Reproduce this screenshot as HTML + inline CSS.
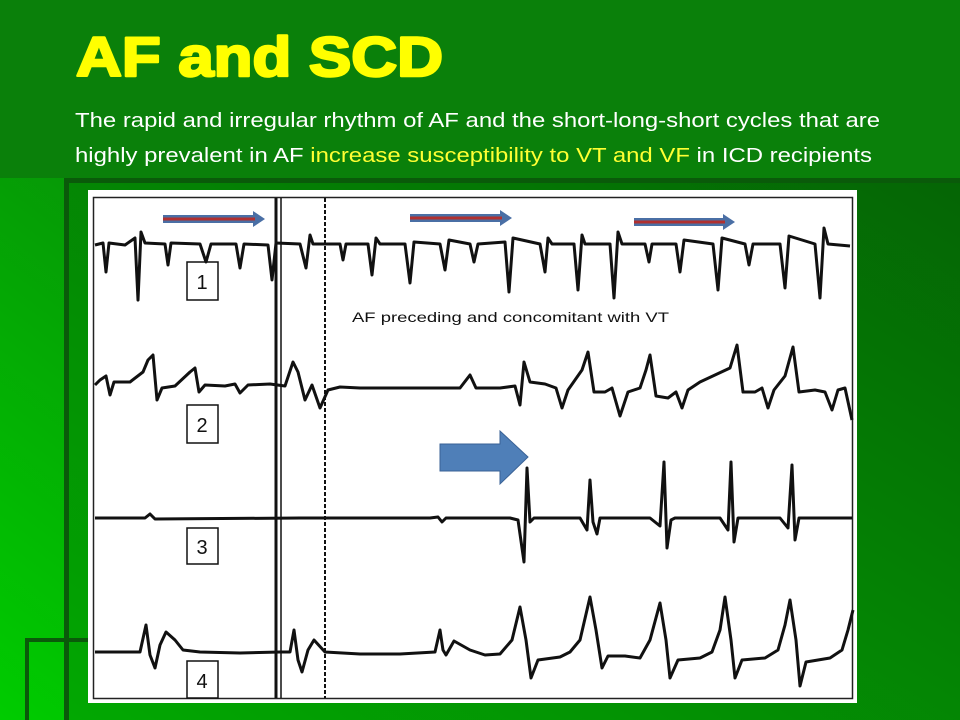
<!DOCTYPE html>
<html><head><meta charset="utf-8"><style>
html,body{margin:0;padding:0;width:960px;height:720px;overflow:hidden}
</style></head><body>
<svg width="960" height="720" viewBox="0 0 960 720" xmlns="http://www.w3.org/2000/svg" font-family="Liberation Sans, Arial, sans-serif">
<defs>
<linearGradient id="bg" x1="1" y1="0" x2="0" y2="1">
<stop offset="0" stop-color="#0a6e0a"/>
<stop offset="0.5" stop-color="#078f07"/>
<stop offset="1" stop-color="#00cc00"/>
</linearGradient>
<linearGradient id="inner" x1="1" y1="0" x2="0" y2="1">
<stop offset="0" stop-color="#056505"/>
<stop offset="1" stop-color="#02a802"/>
</linearGradient>
</defs>
<rect width="960" height="720" fill="url(#bg)"/>
<rect x="0" y="0" width="960" height="178" fill="#0a800a"/>
<rect x="66" y="180" width="894" height="540" fill="url(#inner)"/>
<rect x="64" y="178" width="896" height="5" fill="#0a5a0a"/>
<rect x="64" y="178" width="5" height="542" fill="#0a5a0a"/>
<rect x="25" y="638" width="64" height="4" fill="#0a5a0a"/>
<rect x="25" y="638" width="4" height="82" fill="#0a5a0a"/>

<text x="76" y="76" font-size="56" font-weight="bold" fill="#ffff00" stroke="#ffff00" stroke-width="2.5" stroke-linejoin="round" textLength="367" lengthAdjust="spacingAndGlyphs">AF and SCD</text>
<text x="75" y="127" font-size="20" fill="#ffffff" textLength="805" lengthAdjust="spacingAndGlyphs">The rapid and irregular rhythm of AF and the short-long-short cycles that are</text>
<text x="75" y="162" font-size="20" fill="#ffffff" textLength="797" lengthAdjust="spacingAndGlyphs">highly prevalent in AF <tspan fill="#ffff33">increase susceptibility to VT and VF</tspan> in ICD recipients</text>

<rect x="88" y="190" width="769" height="513" fill="#ffffff"/>
<rect x="93.5" y="197.5" width="759" height="501" fill="none" stroke="#222" stroke-width="1.5"/>

<line x1="276" y1="198" x2="276" y2="698" stroke="#111" stroke-width="3"/>
<line x1="281" y1="198" x2="281" y2="698" stroke="#111" stroke-width="1.5"/>
<line x1="325" y1="198" x2="325" y2="698" stroke="#111" stroke-width="2" stroke-dasharray="4,2"/>

<g fill="none" stroke="#111" stroke-width="1.5">
<rect x="187" y="262" width="31" height="38"/>
<rect x="187" y="405" width="31" height="38"/>
<rect x="187" y="528" width="31" height="36"/>
<rect x="187" y="661" width="31" height="37"/>
</g>
<g font-size="20" fill="#111" text-anchor="middle">
<text x="202" y="289">1</text>
<text x="202" y="432">2</text>
<text x="202" y="554">3</text>
<text x="202" y="688">4</text>
</g>

<g fill="none" stroke="#111" stroke-width="3" stroke-linejoin="round">
<polyline points="95,245 103,243 106,272 109,243 125,245 135,238 138,300 141,232 145,243 165,244 168,265 171,243 200,244 206,262 211,244 236,244 240,268 244,244 268,245 272,280 276,243 300,244 306,268 310,235 313,244 340,244 343,260 346,244 368,244 372,275 376,238 380,244 405,244 410,283 414,242 440,244 445,270 449,240 470,244 474,262 478,244 505,242 509,292 513,238 540,244 545,272 548,238 552,244 574,244 578,290 582,235 585,244 610,244 614,298 618,232 622,244 645,244 649,262 652,244 676,244 680,272 684,240 713,244 718,290 722,238 745,244 749,265 753,244 780,244 785,288 789,236 815,244 820,298 824,228 828,244 850,246"/>
<polyline points="95,385 100,380 106,376 110,395 114,382 130,382 143,372 148,360 153,355 157,400 162,388 175,386 190,372 195,368 199,392 205,385 225,386 235,384 240,393 248,385 270,384 285,386 293,362 298,372 305,400 312,385 320,408 328,390 340,387 360,388 400,388 430,388 460,388 470,375 476,388 500,388 515,386 520,405 524,362 530,382 545,384 556,388 562,408 568,390 582,370 588,352 594,392 605,392 612,388 620,416 628,392 640,388 646,370 650,355 656,396 668,398 676,392 682,408 688,390 700,382 730,368 737,345 743,392 755,392 762,388 768,408 774,390 785,376 793,347 799,392 815,390 825,392 832,410 838,390 845,388 852,420"/>
<polyline points="95,518 145,518 150,514 155,519 300,518 430,518 438,517 442,522 446,518 510,518 518,520 524,562 527,468 530,522 534,518 580,518 587,530 590,480 593,522 597,534 600,518 650,518 660,526 664,462 667,548 671,520 675,518 720,518 728,530 731,462 734,542 738,518 780,518 788,528 792,465 795,540 799,518 852,518"/>
<polyline points="95,652 140,652 146,625 150,655 155,668 160,645 166,632 175,640 183,650 200,652 240,653 280,652 290,652 294,630 298,660 302,672 308,650 314,640 325,652 360,654 400,654 435,652 440,630 443,650 446,655 454,641 470,650 485,655 500,654 512,640 520,607 526,640 531,678 538,660 560,657 570,652 580,640 590,597 596,630 602,668 608,656 625,656 640,658 650,640 660,603 666,640 670,678 678,660 700,658 712,652 720,630 725,597 731,640 735,678 742,660 765,658 778,650 785,625 790,600 796,640 800,686 806,662 830,658 842,650 848,630 853,610"/>
</g>

<g>
<polygon points="163,215 253,215 253,211 265,219 253,227 253,223 163,223" fill="#4a6fa5"/>
<rect x="163" y="217.5" width="92" height="3" fill="#b03030"/>
<polygon points="410,214 500,214 500,210 512,218 500,226 500,222 410,222" fill="#4a6fa5"/>
<rect x="410" y="216.5" width="92" height="3" fill="#b03030"/>
<polygon points="634,218 723,218 723,214 735,222 723,230 723,226 634,226" fill="#4a6fa5"/>
<rect x="634" y="220.5" width="91" height="3" fill="#b03030"/>
</g>

<text x="352" y="322" font-size="14" fill="#111" textLength="317" lengthAdjust="spacingAndGlyphs">AF preceding and concomitant with VT</text>

<polygon points="440,444 500,444 500,431 528,457 500,484 500,471 440,471" fill="#4f7fb8" stroke="#3a6296" stroke-width="1"/>
</svg>
</body></html>
